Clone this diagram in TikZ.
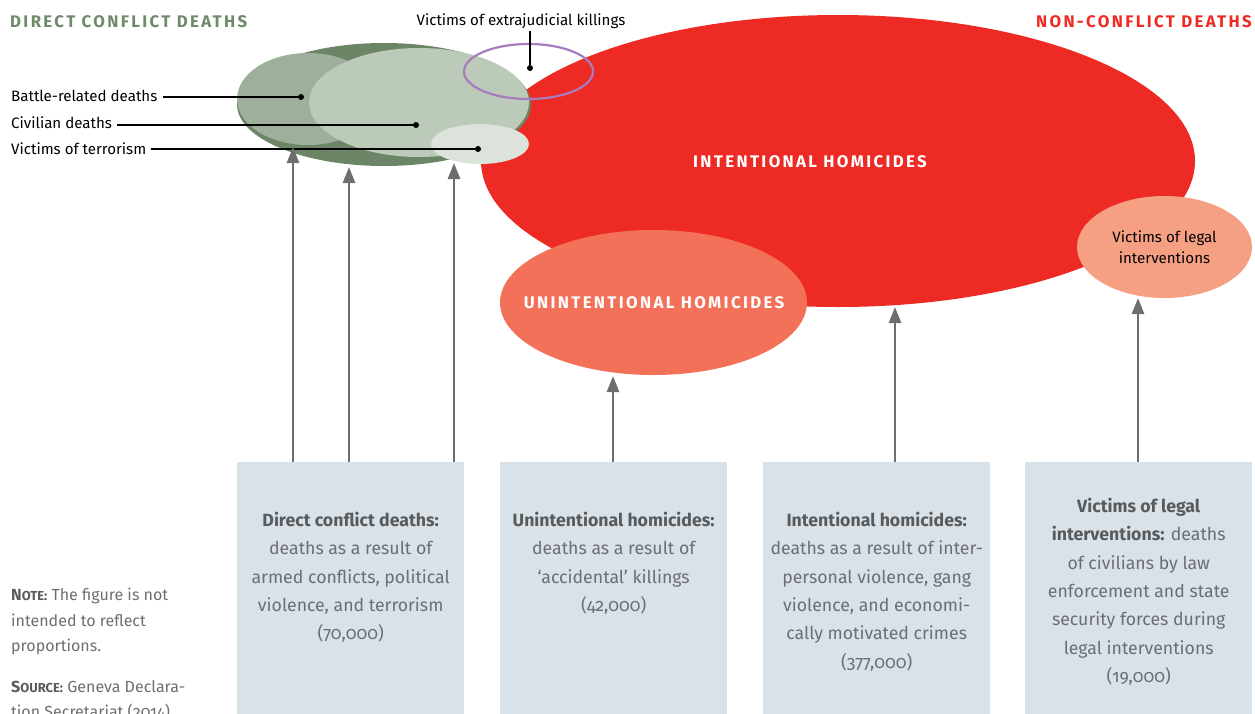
\documentclass[tikz,border=0pt]{standalone}
\usepackage{fontspec}
\setmainfont{Fira Sans}[Numbers=OldStyle]
\newfontfamily\spacedfont{Fira Sans}[LetterSpace=14]
\usetikzlibrary{shapes.geometric,positioning,arrows.meta}

\tikzset{
  blob/.style={ellipse, inner sep=0pt, draw=none},
  dot/.style={circle, fill=black, inner sep=0pt, minimum size=6pt},
  lbl/.style={font=\fontsize{15.1}{17}\selectfont, inner sep=2pt},
  leader/.style={black, line width=1.1pt},
  title/.style={font=\spacedfont\bfseries\fontsize{16.8}{18}\selectfont, inner sep=0pt},
  inner title/.style={font=\spacedfont\bfseries\fontsize{16.8}{18}\selectfont, white, inner sep=0pt},
  infobox/.style={fill=boxc, minimum width=227pt, minimum height=300pt, anchor=north west, inner sep=0pt},
  boxtext/.style={text=txtc, font=\fontsize{17.7}{28.3}\selectfont, align=center, inner sep=0pt},
  arr/.style={arrc, line width=2.6pt, -{Triangle[width=12pt,length=16pt]}}
}

\begin{document}
\begin{tikzpicture}[x=1pt,y=-1pt]
  %colores
  \definecolor{dkgreen}{HTML}{6B8566}
  \definecolor{battlec}{HTML}{9EB09B}
  \definecolor{civc}{HTML}{BCCAB9}
  \definecolor{terrc}{HTML}{DCE3DB}
  \definecolor{titlegreen}{HTML}{6E8A69}
  \definecolor{bigred}{HTML}{EE2A24}
  \definecolor{unintc}{HTML}{F37159}
  \definecolor{legalc}{HTML}{F6A083}
  \definecolor{purp}{HTML}{A67CBE}
  \definecolor{boxc}{HTML}{D8E2E8}
  \definecolor{txtc}{HTML}{6D6E71}
  \definecolor{boldc}{HTML}{595A5C}
  \definecolor{arrc}{HTML}{6E6E6E}

  \useasboundingbox (0,0) rectangle (1255,713);

  % elipses de homicidios
  \node[blob, fill=bigred, minimum width=714pt, minimum height=292pt] (intent) at (838,161) {};
  \node[blob, fill=unintc, minimum width=307pt, minimum height=145pt] (unint) at (653.5,302.5) {};
  \node[blob, fill=legalc, minimum width=175pt, minimum height=102pt] (legal) at (1164.5,247) {};

  % elipses de conflicto
  \node[blob, fill=dkgreen, minimum width=294pt, minimum height=123pt] (conflict) at (384,104.5) {};
  \node[blob, fill=battlec, minimum width=142pt, minimum height=92pt] (battle) at (308,99) {};
  \node[blob, fill=civc, minimum width=220pt, minimum height=109pt] (civil) at (419,102.5) {};
  \node[blob, fill=terrc, minimum width=98pt, minimum height=40pt] (terror) at (480,144) {};
  \node[blob, draw=purp, line width=2.2pt, minimum width=129pt, minimum height=55pt] (extra) at (528.5,71.5) {};

  % titulos
  \node[title, text=titlegreen, anchor=west] (dctitle) at (10,22) {DIRECT CONFLICT DEATHS};
  \node[title, text=bigred, anchor=east] (nctitle) at (1252,22) {NON-CONFLICT DEATHS};
  \node[inner title] (intentlbl) at (810,162) {INTENTIONAL HOMICIDES};
  \node[inner title] (unintlbl) at (654,303) {UNINTENTIONAL HOMICIDES};
  \node[lbl, align=center, font=\fontsize{15.1}{20.5}\selectfont] (legallbl) at (legal.center) {Victims of legal\\interventions};

  % etiquetas y puntos
  \node[dot] (battledot) at (301,97) {};
  \node[dot] (civdot) at (416,125) {};
  \node[dot] (terrdot) at (478,149) {};
  \node[dot] (extradot) at (530,68) {};
  \node[lbl, anchor=west] (battlelbl) at (9,96) {Battle-related deaths};
  \node[lbl, anchor=west] (civlbl) at (9,123) {Civilian deaths};
  \node[lbl, anchor=west] (terrlbl) at (9,149) {Victims of terrorism};
  \node[lbl] (extralbl) at (521,21) {Victims of extrajudicial killings};
  \draw[leader] (battlelbl.east) ++(3,1) -- (battledot);
  \draw[leader] (civlbl.east) ++(3,2) -- (civdot);
  \draw[leader] (terrlbl.east) ++(3,0) -- (terrdot);
  \draw[leader] (extralbl.south -| extradot) -- (extradot);

  % cajas
  \node[infobox] (box1) at (237,462) {};
  \node[infobox] (box2) at (500,462) {};
  \node[infobox] (box3) at (763,462) {};
  \node[infobox] (box4) at (1025,462) {};

  \node[boxtext, below=50pt of box1.north] (text1) {\textcolor{boldc}{\bfseries Direct conflict deaths:}\\deaths as a result of\\armed conflicts, political\\violence, and terrorism\\(70,000)};
  \node[boxtext, below=50pt of box2.north] (text2) {\textcolor{boldc}{\bfseries Unintentional homicides:}\\deaths as a result of\\‘accidental’ killings\\(42,000)};
  \node[boxtext, below=50pt of box3.north] (text3) {\textcolor{boldc}{\bfseries Intentional homicides:}\\deaths as a result of inter-\\personal violence, gang\\violence, and economi-\\cally motivated crimes\\(377,000)};
  \node[boxtext, below=36pt of box4.north] (text4) {\textcolor{boldc}{\bfseries Victims of legal}\\\textcolor{boldc}{\bfseries interventions:} deaths\\of civilians by law\\enforcement and state\\security forces during\\legal interventions\\(19,000)};

  % flechas
  \coordinate (tipA) at (293,147);
  \coordinate (tipB) at (349,167);
  \coordinate (tipC) at (454,163);
  \coordinate (tipD) at (613,376);
  \coordinate (tipE) at (895,307);
  \coordinate (tipF) at (1138,298);
  \foreach \b/\t in {box1/tipA, box1/tipB, box1/tipC, box2/tipD, box3/tipE, box4/tipF}
    \draw[arr] (\b.north -| \t) -- (\t);

  % nota
  \node[text=txtc, font=\fontsize{16}{25.5}\selectfont, align=left, anchor=north west, inner sep=0pt] (note) at (11,588)
    {\textcolor{boldc}{\bfseries N\fontsize{13}{25.5}\selectfont OTE:} The figure is not\\intended to reflect\\proportions.};
  \node[text=txtc, font=\fontsize{16}{25.5}\selectfont, align=left, anchor=north west, inner sep=0pt] (source) at (11,680)
    {\textcolor{boldc}{\bfseries S\fontsize{13}{25.5}\selectfont OURCE:} Geneva Declara-\\tion Secretariat (2014).};
\end{tikzpicture}
\end{document}
